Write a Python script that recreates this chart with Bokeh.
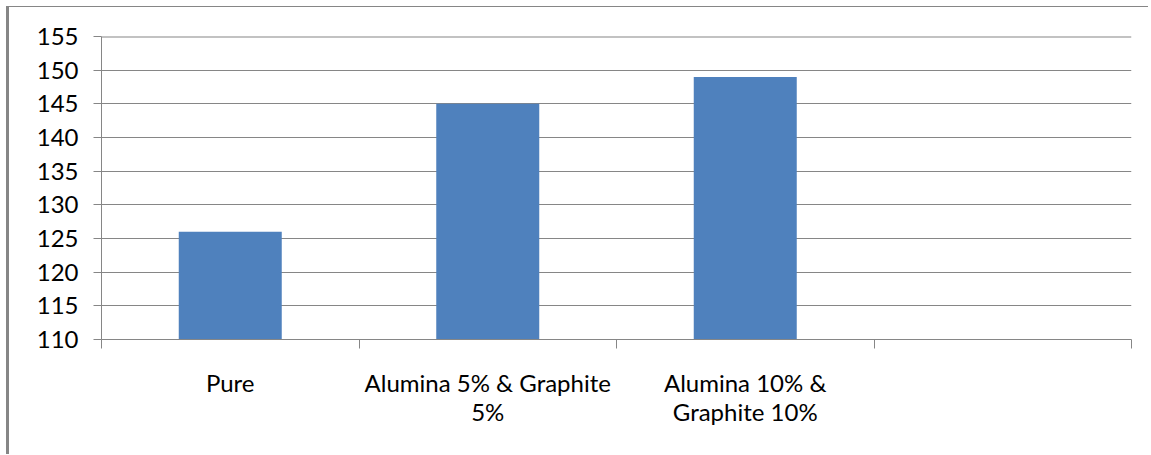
import math
from bokeh.plotting import figure
from bokeh.models import Range1d, FixedTicker, ColumnDataSource, Span
from bokeh.embed import file_html
from bokeh.resources import INLINE

categories = ["Pure", "Alumina 5% & Graphite\n5%", "Alumina 10% &\nGraphite 10%", ""]
values = [126, 145, 149, float("nan")]
y_ticks = [110, 115, 120, 125, 130, 135, 140, 145, 150, 155]

n = len(categories)
centers = [i + 0.5 for i in range(n)]
bounds = [float(i) for i in range(n + 1)]

src = ColumnDataSource(dict(x=centers, top=values))

p = figure(width=1142, height=448, output_backend="svg", toolbar_location=None,
           x_range=Range1d(0, n), y_range=Range1d(y_ticks[0], y_ticks[-1]),
           min_border_left=92, min_border_right=20, min_border_top=29, min_border_bottom=116)
p.styles = {"margin-left": "6px", "margin-top": "6px",
            "border-left": "3px solid #868686", "border-top": "1px solid #868686"}
p.outline_line_color = None
p.background_fill_color = "white"
p.border_fill_color = "white"

grey = "#868686"
fnt = "Lato"

p.vbar(x="x", top="top", bottom=y_ticks[0], width=0.4, source=src,
       fill_color="#4F81BD", line_color=None)

p.add_layout(Span(location=y_ticks[-1], dimension="width", line_color=grey, line_width=2))

p.xgrid.grid_line_color = None
p.ygrid.grid_line_color = grey
p.ygrid.grid_line_width = 1
p.ygrid.ticker = FixedTicker(ticks=y_ticks)

ya = p.yaxis[0]
ya.ticker = FixedTicker(ticks=y_ticks)
ya.axis_line_color = grey
ya.major_tick_line_color = grey
ya.major_tick_out = 8
ya.major_tick_in = 0
ya.minor_tick_line_color = None
ya.major_label_text_font = fnt
ya.major_label_text_font_size = "24px"
ya.major_label_text_color = "black"
ya.major_label_standoff = 15

xa = p.xaxis[0]
xa.ticker = FixedTicker(ticks=centers, minor_ticks=bounds)
xa.major_label_overrides = {c: lab for c, lab in zip(centers, categories)}
xa.axis_line_color = grey
xa.major_tick_line_color = None
xa.major_tick_out = 0
xa.major_tick_in = 0
xa.minor_tick_line_color = grey
xa.minor_tick_out = 9
xa.minor_tick_in = 0
xa.major_label_text_font = fnt
xa.major_label_text_font_size = "24px"
xa.major_label_text_color = "black"
xa.major_label_standoff = 19
xa.major_label_text_line_height = 1.0

open("out.html", "w").write(file_html(p, INLINE))
